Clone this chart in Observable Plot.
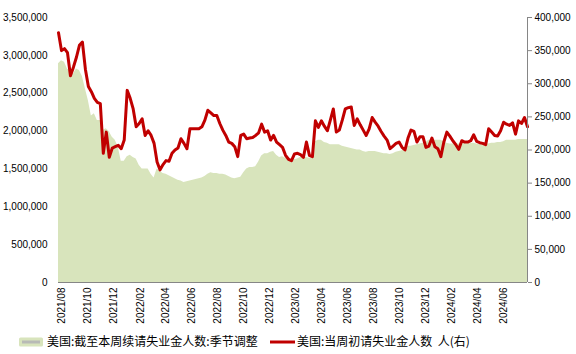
<!DOCTYPE html>
<html>
<head>
<meta charset="utf-8">
<script src="https://cdn.jsdelivr.net/npm/d3@7"></script>
<script src="https://cdn.jsdelivr.net/npm/@observablehq/plot@0.6"></script>
<style>
  html, body { margin: 0; padding: 0; background: #fff; }
  #wrap { width: 576px; height: 354px; position: relative; overflow: hidden; }
  #legend { display: block; }
</style>
</head>
<body>
<div id="wrap"></div>
<script>
// ---- data (weekly, starting at the week below) ----
const startWeek = "2021-07-24";
const xDomain = ["2021-07-24", "2024-07-27"];
// 美国:截至本周续请失业金人数:季节调整 (thousands)
const continuingK = [
  2890,2930,2910,2820,2800,2750,2820,2800,2720,2560,
  2400,2200,2230,2140,2140,2010,2030,1990,1920,1880,
  1790,1600,1600,1660,1680,1650,1630,1550,1500,1500,
  1500,1430,1380,1500,1470,1440,1430,1410,1390,1370,
  1350,1340,1320,1330,1340,1350,1360,1370,1380,1400,
  1430,1450,1440,1440,1430,1430,1420,1400,1380,1370,
  1380,1390,1450,1500,1520,1520,1530,1590,1670,1700,
  1700,1720,1730,1680,1650,1660,1640,1620,1610,1620,
  1630,1650,1650,1650,1640,1650,1860,1880,1880,1850,
  1840,1820,1820,1820,1820,1800,1790,1780,1770,1760,
  1750,1750,1730,1720,1730,1730,1730,1720,1710,1700,
  1700,1690,1700,1720,1730,1740,1780,1800,1800,1810,
  1820,1830,1840,1850,1880,1880,1880,1880,1880,1860,
  1840,1830,1830,1830,1830,1830,1840,1840,1840,1840,
  1830,1820,1820,1830,1830,1840,1840,1850,1850,1860,
  1880,1880,1880,1880,1890,1890,1890,1890
];
// 美国:当周初请失业金人数 (thousands, right axis)
const initialK = [
  377,350,353,347,312,325,340,358,363,322,
  296,288,278,272,270,195,227,189,203,205,
  207,202,215,290,278,262,235,240,247,222,
  229,222,210,182,170,178,184,183,195,200,
  203,217,210,202,232,232,232,232,235,245,
  260,256,252,252,240,230,222,212,210,205,
  190,222,224,217,218,219,222,226,239,227,
  229,215,222,212,208,204,192,186,184,194,
  195,193,189,212,192,190,244,234,244,236,
  229,245,262,227,230,245,262,264,265,237,
  247,238,230,222,232,249,242,236,228,221,
  215,202,206,210,212,204,200,218,230,228,
  212,220,220,204,206,218,205,202,190,212,
  227,221,214,208,201,214,212,212,214,223,
  213,211,210,208,232,227,222,221,229,242,
  239,237,241,224,244,240,249,235
];
const leftTicks = [0,500000,1000000,1500000,2000000,2500000,3000000,3500000];
const rightTicks = [0,50000,100000,150000,200000,250000,300000,350000,400000];
const xTickLabels = ["2021/08","2021/10","2021/12","2022/02","2022/04","2022/06","2022/08","2022/10","2022/12",
  "2023/02","2023/04","2023/06","2023/08","2023/10","2023/12","2024/02","2024/04","2024/06"];
const legendLabels = ["美国:截至本周续请失业金人数:季节调整", "美国:当周初请失业金人数  人(右)"];
const colors = { area: "#d8e4bc", line: "#c00000", axis: "#868686" };

// ---- build tables ----
const t0 = new Date(startWeek + "T00:00:00Z");
const weekDate = i => d3.utcDay.offset(t0, 7 * i);
const continuing = continuingK.map((v, i) => ({ date: weekDate(i), value: v * 1000 }));
const initial = initialK.map((v, i) => ({ date: weekDate(i), value: v * 1000 }));
const leftMax = 3500000, rightMax = 400000;
const k = leftMax / rightMax;
const parseTick = s => new Date(s.replace("/", "-") + "-01T00:00:00Z");
const xTicks = xTickLabels.map(parseTick);
const dom = xDomain.map(s => new Date(s + "T00:00:00Z"));
const fmt = d3.format(",");
const numFont = "'Liberation Sans', Arial, sans-serif";

const chart = Plot.plot({
  width: 576,
  height: 326,
  marginLeft: 58,
  marginRight: 49,
  marginTop: 17,
  marginBottom: 44,
  style: { fontFamily: numFont, fontSize: "10px", color: "#000", background: "#fff" },
  x: { type: "utc", domain: dom, label: null },
  y: { domain: [0, leftMax], label: null },
  marks: [
    Plot.areaY(continuing, { x: "date", y: "value", fill: colors.area }),
    Plot.lineY(initial, { x: "date", y: d => d.value * k, stroke: colors.line, strokeWidth: 3, strokeLinejoin: "round" }),
    Plot.ruleY([0], { stroke: colors.axis, strokeWidth: 1 }),
    Plot.ruleX([dom[1]], { stroke: colors.axis, strokeWidth: 1 }),
    Plot.axisY(leftTicks, { anchor: "left", label: null, tickSize: 0, tickPadding: 11, tickFormat: fmt, fontSize: 10 }),
    Plot.axisY(rightTicks.map(v => v * k), { anchor: "right", label: null, tickSize: 4, tickPadding: 3, stroke: colors.axis,
      tickFormat: d => fmt(Math.round(d / k)), fontSize: 10 }),
    Plot.axisX(xTicks, { anchor: "bottom", label: null, tickSize: 0, tickPadding: 5, tickRotate: -90,
      tickFormat: d3.utcFormat("%Y/%m"), fontSize: 10 })
  ]
});
document.getElementById("wrap").appendChild(chart);

// ---- legend below the chart ----
const ns = "http://www.w3.org/2000/svg";
const lg = document.createElementNS(ns, "svg");
lg.setAttribute("id", "legend");
lg.setAttribute("width", 576);
lg.setAttribute("height", 28);
const el = (tag, attrs, text) => {
  const e = document.createElementNS(ns, tag);
  for (const a in attrs) e.setAttribute(a, attrs[a]);
  if (text) e.textContent = text;
  lg.appendChild(e);
  return e;
};
const cy = 16;
el("rect", { x: 19, y: cy - 4.5, width: 24, height: 9, rx: 1.5, fill: colors.area });
el("line", { x1: 22, x2: 40, y1: cy, y2: cy, stroke: "#b8bab6", "stroke-width": 3 });
el("text", { x: 47, y: cy + 4.3, "font-family": "'Noto Sans CJK SC', sans-serif", "font-size": 12, fill: "#000" }, legendLabels[0]);
el("line", { x1: 270, x2: 295, y1: cy, y2: cy, stroke: colors.line, "stroke-width": 3 });
el("text", { x: 297, y: cy + 4.3, "font-family": "'Noto Sans CJK SC', sans-serif", "font-size": 12, fill: "#000", style: "white-space:pre" }, legendLabels[1]);
document.getElementById("wrap").appendChild(lg);
</script>
</body>
</html>
